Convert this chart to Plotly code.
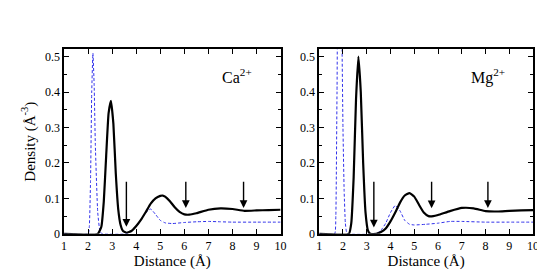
import plotly.graph_objects as go

# Ca2+ panel
ca_black_x = [1, 2.4, 2.55, 2.65, 2.75, 2.85, 2.95, 3.05, 3.15, 3.25, 3.35, 3.45, 3.6, 3.8, 4.0, 4.2, 4.4, 4.6, 4.8, 5.0, 5.1, 5.2, 5.4, 5.6, 5.8, 6.0, 6.2, 6.5, 7.0, 7.5, 8.0, 8.5, 9.0, 9.5, 10.0]
ca_black_y = [0, 0, 0.02, 0.09, 0.22, 0.34, 0.375, 0.31, 0.17, 0.07, 0.025, 0.008, 0.003, 0.008, 0.022, 0.04, 0.062, 0.085, 0.1, 0.107, 0.108, 0.105, 0.092, 0.075, 0.062, 0.055, 0.054, 0.058, 0.068, 0.072, 0.07, 0.065, 0.066, 0.067, 0.068]
ca_blue_x = [1, 2.0, 2.05, 2.1, 2.15, 2.2, 2.25, 2.3, 2.4, 2.5, 2.6, 3.6, 3.8, 4.0, 4.2, 4.4, 4.6, 4.8, 5.0, 5.2, 5.5, 6.0, 6.5, 7.0, 7.5, 8.0, 9.0, 10.0]
ca_blue_y = [0, 0, 0.02, 0.15, 0.4, 0.51, 0.42, 0.25, 0.06, 0.005, 0, 0, 0.008, 0.02, 0.04, 0.06, 0.07, 0.055, 0.038, 0.031, 0.029, 0.032, 0.034, 0.035, 0.034, 0.033, 0.033, 0.033]
ca_arrow_x = [3.59, 6.06, 8.46]
ca_arrow_tip = [0.02, 0.073, 0.073]

# Mg2+ panel
mg_black_x = [1, 2.25, 2.35, 2.45, 2.55, 2.65, 2.75, 2.85, 2.95, 3.05, 3.15, 3.4, 3.6, 3.8, 4.0, 4.2, 4.4, 4.6, 4.8, 5.0, 5.2, 5.4, 5.6, 5.8, 6.0, 6.5, 7.0, 7.5, 8.0, 8.5, 9.0, 9.5, 10]
mg_black_y = [0, 0, 0.03, 0.16, 0.38, 0.5, 0.4, 0.2, 0.06, 0.01, 0, 0, 0.005, 0.015, 0.035, 0.06, 0.088, 0.108, 0.115, 0.105, 0.082, 0.06, 0.05, 0.05, 0.053, 0.064, 0.073, 0.072, 0.064, 0.063, 0.065, 0.066, 0.067]
mg_blue_x = [1, 1.65, 1.7, 1.75, 1.85, 1.9, 1.95, 2.0, 2.05, 2.1, 2.15, 2.2, 3.4, 3.6, 3.8, 4.0, 4.2, 4.4, 4.6, 4.8, 5.0, 5.5, 6.0, 6.5, 7.0, 8.0, 9.0, 10]
mg_blue_y = [0, 0, 0.05, 0.4, 0.9, 0.9, 0.6, 0.3, 0.12, 0.03, 0.005, 0, 0, 0.01, 0.03, 0.06, 0.08, 0.065, 0.038, 0.027, 0.025, 0.027, 0.03, 0.035, 0.035, 0.033, 0.033, 0.033]
mg_arrow_x = [3.30, 5.73, 8.10]
mg_arrow_tip = [0.018, 0.072, 0.073]
arrow_top = 0.151

x_ticks = [1, 2, 3, 4, 5, 6, 7, 8, 9, 10]
y_ticks = [0, 0.1, 0.2, 0.3, 0.4, 0.5]
y_tick_text = ["0", "0.1", "0.2", "0.3", "0.4", "0.5"]

FONT = "Liberation Serif"
BLUE = "rgb(50,50,235)"

fig = go.Figure()
for (bx, by, ux, uy, xa, ya) in [
    (ca_black_x, ca_black_y, ca_blue_x, ca_blue_y, "x", "y"),
    (mg_black_x, mg_black_y, mg_blue_x, mg_blue_y, "x2", "y2"),
]:
    fig.add_trace(go.Scatter(x=ux, y=uy, mode="lines", xaxis=xa, yaxis=ya,
                             line=dict(color=BLUE, width=1, dash="3px,2px", shape="spline", smoothing=0.4),
                             showlegend=False, cliponaxis=True))
    fig.add_trace(go.Scatter(x=bx, y=by, mode="lines", xaxis=xa, yaxis=ya,
                             line=dict(color="black", width=2.2, shape="spline", smoothing=0.4),
                             showlegend=False, cliponaxis=True))

axis_common = dict(showline=True, linecolor="black", linewidth=1.5, mirror="ticks",
                   ticks="inside", tickcolor="black", tickwidth=1.2, showgrid=False,
                   zeroline=False, tickfont=dict(family=FONT, size=12, color="black"))

xa = dict(axis_common, range=[1, 10], tickvals=x_ticks, ticklen=5,
          title=dict(text="Distance (Å)", font=dict(family=FONT, size=15, color="black"), standoff=2))
ya = dict(axis_common, range=[0, 0.52], tickvals=y_ticks, ticktext=y_tick_text, ticklen=5,
          minor=dict(dtick=0.05, tick0=0, ticks="inside", ticklen=3, tickcolor="black", tickwidth=1.2))

fig.update_layout(
    width=545, height=273,
    margin=dict(l=0, r=0, t=0, b=0),
    paper_bgcolor="white", plot_bgcolor="white",
    font=dict(family=FONT, color="black"),
    xaxis=dict(xa, domain=[0.099, 0.503], anchor="y"),
    yaxis=dict(ya, domain=[0.151, 0.844], anchor="x",
               title=dict(text="Density (Å<sup>-3</sup>)", font=dict(family=FONT, size=15, color="black"), standoff=6)),
    xaxis2=dict(xa, domain=[0.575, 0.974], anchor="y2"),
    yaxis2=dict(ya, domain=[0.151, 0.844], anchor="x2"),
)

annotations = []
for ax_x, ax_y, xs, tips in [("x", "y", ca_arrow_x, ca_arrow_tip), ("x2", "y2", mg_arrow_x, mg_arrow_tip)]:
    for xv, tv in zip(xs, tips):
        annotations.append(dict(x=xv, y=tv, ax=xv, ay=arrow_top, xref=ax_x, yref=ax_y,
                                axref=ax_x, ayref=ax_y, showarrow=True, arrowhead=2,
                                arrowsize=1.1, arrowwidth=1.4, arrowcolor="black", text=""))
annotations.append(dict(x=7.5, y=0.445, xref="x", yref="y", xanchor="left", yanchor="middle",
                        text="Ca<sup>2+</sup>", showarrow=False,
                        font=dict(family=FONT, size=16, color="black")))
annotations.append(dict(x=7.3, y=0.445, xref="x2", yref="y2", xanchor="left", yanchor="middle",
                        text="Mg<sup>2+</sup>", showarrow=False,
                        font=dict(family=FONT, size=16, color="black")))
fig.update_layout(annotations=annotations)

fig.write_html("out.html")
